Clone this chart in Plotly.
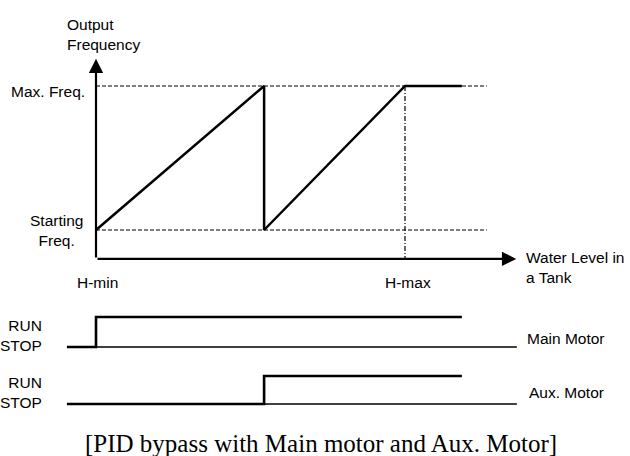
import plotly.graph_objects as go

W, H = 630, 456

# Water level (H-min = 0, H-max = 1) and output frequency
# (Starting Freq. = 0, Max. Freq. = 1) in normalised units.
freq_level = [0.0, 0.544, 0.544, 1.0, 1.184]
freq_value = [0.0, 1.0, 0.0, 1.0, 1.0]

ref_levels = [0.0, 1.265]          # extent of the dashed reference lines
hmax_drop = [1.0, 1.0]             # H-max guide
hmax_drop_f = [1.0, -0.201]

axis_x_end = 1.36                  # tip of the level axis arrow
axis_y_end = 1.19                  # tip of the frequency axis arrow
axis_origin_f = -0.201

# Motor states: 0 = STOP, 1 = RUN
main_level = [-0.094, 0.0, 0.0, 1.184]
main_state = [0, 0, 1, 1]
aux_level = [-0.094, 0.544, 0.544, 1.184]
aux_state = [0, 0, 1, 1]
baseline_level = [-0.094, 1.362]
baseline_state = [0, 0]

freq_ticks = ["Starting<br>Freq.", "Max. Freq."]
level_ticks = ["H-min", "H-max"]
motor_names = ["Main Motor", "Aux. Motor"]
caption = "[PID bypass with Main motor and Aux. Motor]"

SANS = "Liberation Sans, Arial, sans-serif"
SERIF = "Liberation Serif, Times New Roman, serif"
BLACK = "#000000"
FS = 15.5


def px(x):
    return x / W


def py(y):
    return 1 - y / H


fig = go.Figure()

# dashed reference levels for Starting / Max frequency
for f in (0.0, 1.0):
    fig.add_trace(go.Scatter(x=ref_levels, y=[f, f], mode="lines",
                             line=dict(color=BLACK, width=1.2, dash="4px,2px"),
                             xaxis="x", yaxis="y", hoverinfo="skip"))

# H-max vertical guide
fig.add_trace(go.Scatter(x=hmax_drop, y=hmax_drop_f, mode="lines",
                         line=dict(color=BLACK, width=1.2, dash="5px,2px,1px,2px"),
                         xaxis="x", yaxis="y", hoverinfo="skip"))

# output frequency curve
fig.add_trace(go.Scatter(x=freq_level, y=freq_value, mode="lines",
                         line=dict(color=BLACK, width=2.5),
                         xaxis="x", yaxis="y", hoverinfo="skip"))

# motor timing diagrams
fig.add_trace(go.Scatter(x=baseline_level, y=baseline_state, mode="lines",
                         line=dict(color=BLACK, width=1.3),
                         xaxis="x", yaxis="y2", hoverinfo="skip"))
fig.add_trace(go.Scatter(x=main_level, y=main_state, mode="lines",
                         line=dict(color=BLACK, width=2.6),
                         xaxis="x", yaxis="y2", hoverinfo="skip"))
fig.add_trace(go.Scatter(x=baseline_level, y=baseline_state, mode="lines",
                         line=dict(color=BLACK, width=1.3),
                         xaxis="x", yaxis="y3", hoverinfo="skip"))
fig.add_trace(go.Scatter(x=aux_level, y=aux_state, mode="lines",
                         line=dict(color=BLACK, width=2.6),
                         xaxis="x", yaxis="y3", hoverinfo="skip"))

annotations = []

# axes with arrowheads
annotations.append(dict(x=0.0, y=axis_y_end, ax=0.0, ay=axis_origin_f,
                        xref="x", yref="y", axref="x", ayref="y",
                        showarrow=True, arrowhead=2, arrowsize=1.3,
                        arrowwidth=2.2, arrowcolor=BLACK, text=""))
annotations.append(dict(x=axis_x_end, y=axis_origin_f, ax=0.0, ay=axis_origin_f,
                        xref="x", yref="y", axref="x", ayref="y",
                        showarrow=True, arrowhead=2, arrowsize=1.3,
                        arrowwidth=2.2, arrowcolor=BLACK, text=""))

txt = dict(font=dict(family=SANS, size=FS, color=BLACK), showarrow=False)

annotations += [
    dict(x=px(65), y=py(35), xref="paper", yref="paper", xanchor="left",
         yanchor="middle", align="left", text="Output<br>Frequency", **txt),
    dict(x=px(56), y=py(231), xref="paper", yref="paper", xanchor="center",
         yanchor="middle", align="center", text=freq_ticks[0], **txt),
    dict(x=px(87), y=py(91), xref="paper", yref="paper", xanchor="right",
         yanchor="middle", text=freq_ticks[1], **txt),
    dict(x=px(97), y=py(282), xref="paper", yref="paper", xanchor="center",
         yanchor="middle", text=level_ticks[0], **txt),
    dict(x=px(408), y=py(282), xref="paper", yref="paper", xanchor="center",
         yanchor="middle", text=level_ticks[1], **txt),
    dict(x=px(524), y=py(267), xref="paper", yref="paper", xanchor="left",
         yanchor="middle", align="left", text="Water Level in<br>a Tank", **txt),
    dict(x=px(44), y=py(335), xref="paper", yref="paper", xanchor="right",
         yanchor="middle", align="right", text="RUN<br>STOP", **txt),
    dict(x=px(44), y=py(392), xref="paper", yref="paper", xanchor="right",
         yanchor="middle", align="right", text="RUN<br>STOP", **txt),
    dict(x=px(525), y=py(338), xref="paper", yref="paper", xanchor="left",
         yanchor="middle", text=motor_names[0], **txt),
    dict(x=px(527), y=py(392), xref="paper", yref="paper", xanchor="left",
         yanchor="middle", text=motor_names[1], **txt),
    dict(x=px(321), y=py(443), xref="paper", yref="paper", xanchor="center",
         yanchor="middle", text=caption,
         font=dict(family=SERIF, size=25, color=BLACK), showarrow=False),
]

# pixel scales: level 0 -> x=96, level 1 -> x=405
x0, xs = 96, 309
fig.update_layout(
    width=W, height=H,
    margin=dict(l=0, r=0, t=0, b=0),
    paper_bgcolor="white", plot_bgcolor="white",
    showlegend=False,
    annotations=annotations,
    xaxis=dict(range=[-x0 / xs, (W - x0) / xs], visible=False, fixedrange=True),
    yaxis=dict(range=[(230 - H) / 144, 230 / 144], visible=False, fixedrange=True),
    yaxis2=dict(range=[(347 - H) / 30, 347 / 30], visible=False,
                overlaying="y", fixedrange=True),
    yaxis3=dict(range=[(404 - H) / 28, 404 / 28], visible=False,
                overlaying="y", fixedrange=True),
)

fig.write_html("out.html")
